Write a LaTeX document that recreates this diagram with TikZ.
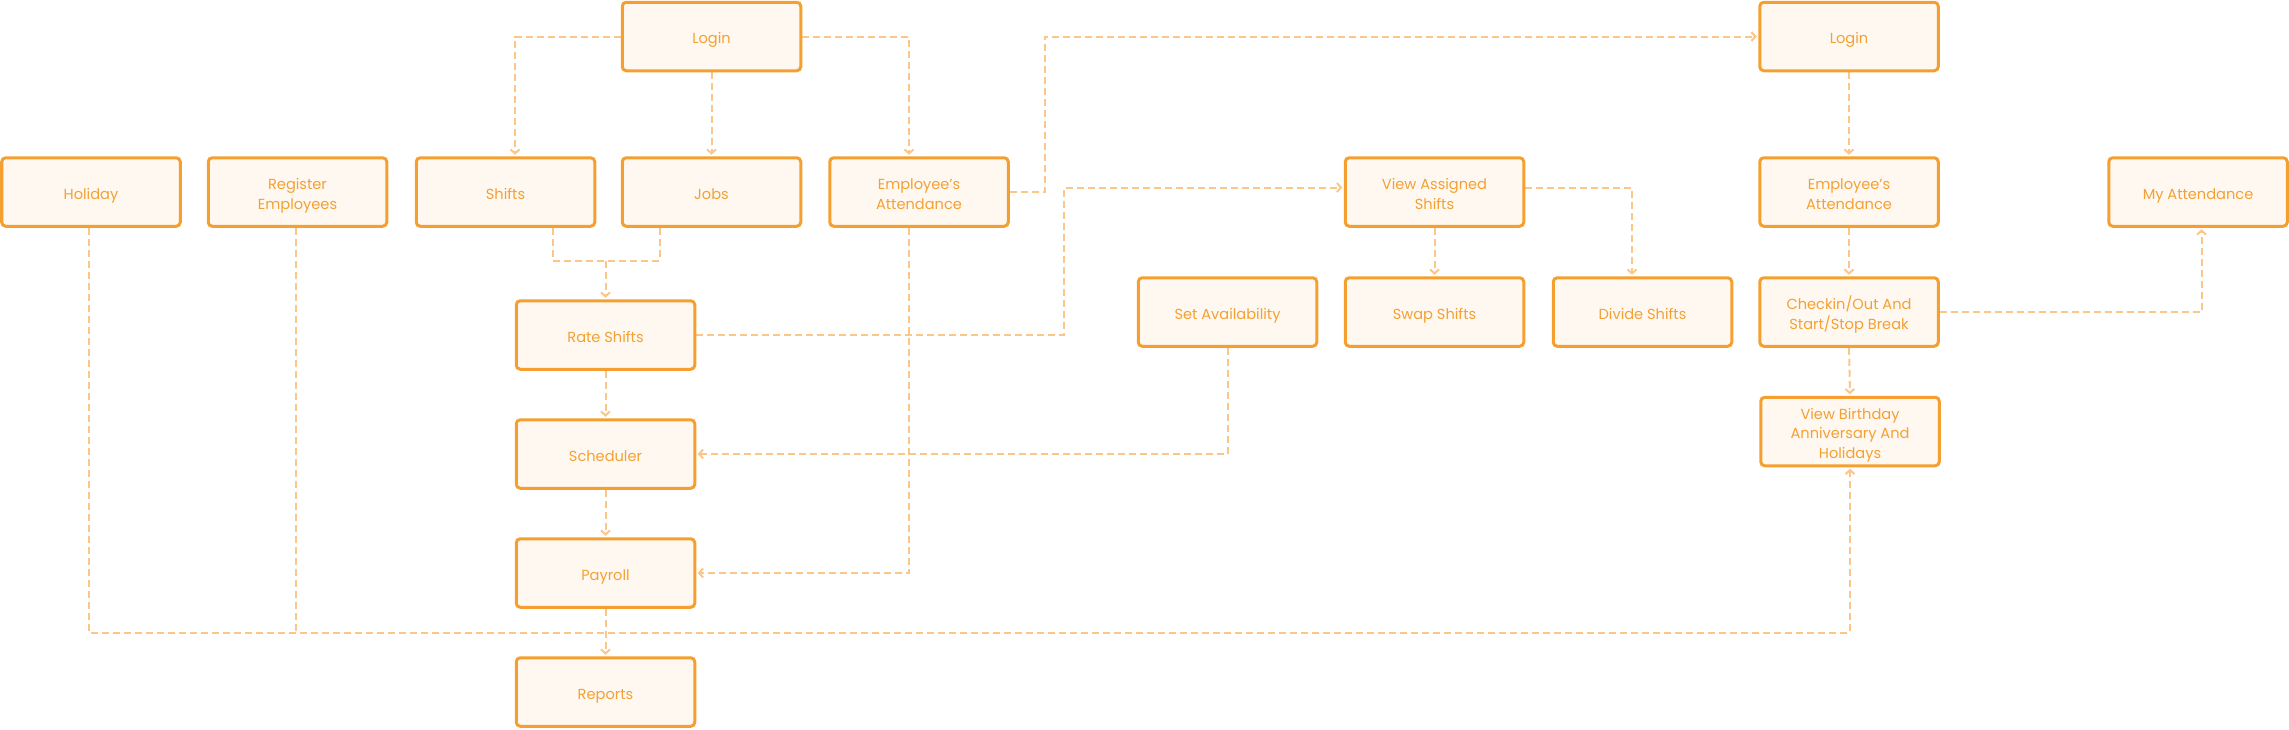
\documentclass[tikz,border=0pt]{standalone}
\usepackage{fontspec}
\setmainfont{Poppins}
\usetikzlibrary{arrows.meta,calc}
\definecolor{boxborder}{HTML}{F59F30}
\definecolor{boxfill}{HTML}{FFF8F1}
\definecolor{boxtext}{HTML}{F4A033}
\definecolor{edgecol}{HTML}{FBC688}
\pgfdeclarelayer{bg}
\pgfsetlayers{bg,main}
\newcommand\bt[1]{\raisebox{-1.7pt}[\height][\depth]{\begin{tabular}{@{}c@{}}#1\end{tabular}}}
\begin{document}
\begin{tikzpicture}[x=0.5pt,y=-0.5pt,
  box/.style={draw=boxborder, line width=1.5pt, fill=boxfill, rounded corners=2pt,
    minimum width=89.25pt, minimum height=34.25pt, inner sep=0pt,
    text=boxtext, font=\fontsize{7.3}{9.9}\selectfont},
  edge/.style={draw=edgecol, line width=1pt, dash pattern=on 3.5pt off 2pt},
  arr/.style={edge, -{Straight Barb[length=2pt,width=4.5pt]}, shorten >=0.75pt}]
\useasboundingbox (0,0) rectangle (2289,729);

\node[box] (login1) at (711.5,36.5) {\bt{Login}};
\node[box] (login2) at (1849,36.5) {\bt{Login}};
\node[box] (holiday) at (91,192) {\bt{Holiday}};
\node[box] (register) at (297.5,192) {\bt{Register\\Employees}};
\node[box] (shifts) at (505.5,192) {\bt{Shifts}};
\node[box] (jobs) at (711.5,192) {\bt{Jobs}};
\node[box] (empatt1) at (919,192) {\bt{Employee's\\Attendance}};
\node[box] (va) at (1434.5,192) {\bt{View Assigned\\Shifts}};
\node[box] (empatt2) at (1849,192) {\bt{Employee's\\Attendance}};
\node[box] (myatt) at (2198,192) {\bt{My Attendance}};
\node[box] (setavail) at (1227.5,312) {\bt{Set Availability}};
\node[box] (swap) at (1434.5,312) {\bt{Swap Shifts}};
\node[box] (divide) at (1642.5,312) {\bt{Divide Shifts}};
\node[box] (checkin) at (1849,312) {\bt{Checkin/Out And\\Start/Stop Break}};
\node[box] (rate) at (605.5,335) {\bt{Rate Shifts}};
\node[box] (birthday) at (1850,431.5) {\bt{View Birthday\\Anniversary And\\Holidays}};
\node[box] (scheduler) at (605.5,454) {\bt{Scheduler}};
\node[box] (payroll) at (605.5,573) {\bt{Payroll}};
\node[box] (reports) at (605.5,692) {\bt{Reports}};

\coordinate (sj) at (605.5,260.5);
\coordinate (bottomleft) at (89,632.5);
\coordinate (regjoin) at (296,632.5);

\begin{pgfonlayer}{bg}
\draw[arr] (login1.west) -| ($(shifts.north)+(9.5,0)$);
\draw[arr] (login1.south) -- (jobs.north);
\draw[arr] (login1.east) -| ($(empatt1.north)+(-10,0)$);
\draw[edge] ($(shifts.south)+(47.5,0)$) |- (sj) -| ($(jobs.south)+(-51.5,0)$);
\draw[arr] (sj) -- (rate.north);
\draw[arr] (empatt1.east) -- (1045,0 |- empatt1.east) |- (login2.west);
\draw[arr] (rate.east) -- (1064,0 |- rate.east) |- ($(va.west)+(0,-4.5)$);
\draw[arr] (va.south) -- (swap.north);
\draw[arr] ($(va.east)+(0,-4.5)$) -| ($(divide.north)+(-10.5,0)$);
\draw[arr] (setavail.south) |- (scheduler.east);
\draw[arr] ($(empatt1.south)+(-10,0)$) |- (payroll.east);
\draw[arr] (rate.south) -- (scheduler.north);
\draw[arr] (scheduler.south) -- (payroll.north);
\draw[arr] (payroll.south) -- (reports.north);
\draw[arr] ($(holiday.south)+(-2,0)$) -- (bottomleft) -| (birthday.south);
\draw[edge] ($(register.south)+(-1.5,0)$) -- (regjoin);
\draw[arr] (login2.south) -- (empatt2.north);
\draw[arr] (empatt2.south) -- (checkin.north);
\draw[arr] (checkin.south) -- (birthday.north);
\draw[arr] (checkin.east) -| ($(myatt.south)+(3.5,0)$);
\end{pgfonlayer}
\end{tikzpicture}
\end{document}
